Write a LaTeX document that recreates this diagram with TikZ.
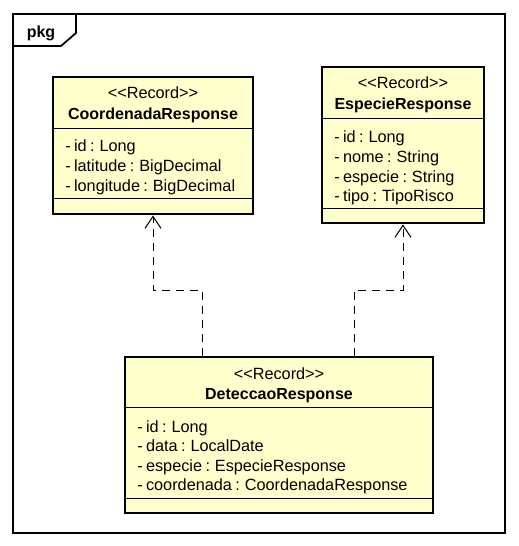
\documentclass[tikz,border=0pt]{standalone}
\usepackage{fontspec}
\setmainfont[WordSpace=0.75]{Liberation Sans}
\usetikzlibrary{arrows.meta}
\definecolor{umlyellow}{HTML}{FFFFCC}

\begin{document}
\begin{tikzpicture}
  [x=0.75pt,y=-0.75pt,
   every node/.style={font=\fontsize{12.2}{14}\selectfont},
   record/.style={draw,line width=2.2pt,fill=umlyellow,inner sep=0pt},
   stereo/.style={anchor=base,inner sep=0pt},
   cname/.style={anchor=base,inner sep=0pt,font=\fontsize{12}{14}\selectfont\bfseries},
   attr/.style={anchor=base west,inner sep=0pt},
   sep/.style={line width=0.75pt},
   dep/.style={dash pattern=on 6pt off 4.5pt,line width=0.75pt,-{Straight Barb[length=9pt,width=12pt]}}]
  \useasboundingbox (0,0) rectangle (518,546);

  % package frame
  \draw[line width=1.3pt] (13,14) rectangle (505,533);
  \draw[line width=1.3pt] (13,46) -- (61,46) -- (76,33) -- (76,14);
  \node[cname] (pkg) at (41,37) {pkg};

  % records
  \node[record,minimum width=150pt,minimum height=102.75pt] (coord) at (153,145.5) {};
  \node[record,minimum width=121.5pt,minimum height=117pt] (esp) at (403,145) {};
  \node[record,minimum width=231pt,minimum height=117pt] (detec) at (279,435) {};

  \draw[sep] (coord.west |- 0,128) -- (coord.east |- 0,128);
  \draw[sep] (coord.west |- 0,198) -- (coord.east |- 0,198);
  \draw[sep] (esp.west |- 0,118) -- (esp.east |- 0,118);
  \draw[sep] (esp.west |- 0,208) -- (esp.east |- 0,208);
  \draw[sep] (detec.west |- 0,407) -- (detec.east |- 0,407);
  \draw[sep] (detec.west |- 0,498) -- (detec.east |- 0,498);

  \node[stereo] (coord-st) at (153,98) {{<}{<}Record{>}{>}};
  \node[cname] (coord-name) at (153,119) {CoordenadaResponse};
  \node[attr] (coord-a1) at (65,151) {- id : Long};
  \node[attr] (coord-a2) at (65,171) {- latitude : BigDecimal};
  \node[attr] (coord-a3) at (65,191) {- longitude : BigDecimal};

  \node[stereo] (esp-st) at (403,88) {{<}{<}Record{>}{>}};
  \node[cname] (esp-name) at (403,109) {EspecieResponse};
  \node[attr] (esp-a1) at (334,142) {- id : Long};
  \node[attr] (esp-a2) at (334,162) {- nome : String};
  \node[attr] (esp-a3) at (334,182) {- especie : String};
  \node[attr] (esp-a4) at (334,201) {- tipo : TipoRisco};

  \node[stereo] (detec-st) at (279,379) {{<}{<}Record{>}{>}};
  \node[cname] (detec-name) at (279,399) {DeteccaoResponse};
  \node[attr] (detec-a1) at (137,432) {- id : Long};
  \node[attr] (detec-a2) at (137,451) {- data : LocalDate};
  \node[attr] (detec-a3) at (137,471) {- especie : EspecieResponse};
  \node[attr] (detec-a4) at (137,490) {- coordenada : CoordenadaResponse};

  % dependencies
  \coordinate (kc) at (202,290);
  \coordinate (ke) at (354,290);
  \draw[dep] (kc |- detec.north) -- (kc) -| (coord.south);
  \draw[dep] (ke |- detec.north) -- (ke) -| (esp.south);

\end{tikzpicture}
\end{document}
